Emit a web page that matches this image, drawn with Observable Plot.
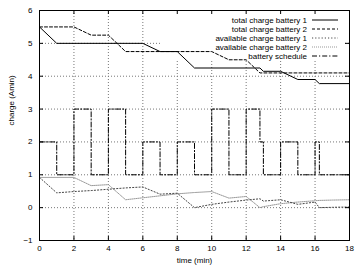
<!DOCTYPE html>
<html><head><meta charset="utf-8">
<script src="https://cdn.jsdelivr.net/npm/d3@7"></script>
<script src="https://cdn.jsdelivr.net/npm/@observablehq/plot@0.6"></script>
<style>
body{margin:0;background:#fff}
svg{font-family:"Liberation Sans",Arial,Helvetica,sans-serif}
</style>
</head><body><div id="chart"></div>
<script>
// ---- data ----
const xTicks = [0,2,4,6,8,10,12,14,16,18];
const yTicks = [-1,0,1,2,3,4,5,6];

const totalB1Time = [0,1,6,7,8,9,12.8,13,14,15,16,16.25,18];
const totalB1     = [5.5,5,5,4.75,4.75,4.25,4.25,4.15,4.15,3.9,3.9,3.775,3.775];

const totalB2Time = [0,2,3,4,5,10,11,12,12.8,18];
const totalB2     = [5.5,5.5,5.25,5.25,4.75,4.75,4.5,4.5,4.1,4.1];

const availTime = [0,1,2,3,4,5,6,7,8,9,10,11,12,12.8,13,14,15,16,16.25,17,18];
const availB1   = [0.92,0.45,0.49,0.52,0.56,0.6,0.63,0.41,0.44,0.0,0.1,0.17,0.23,0.27,0.2,0.24,0.1,0.17,0.0,0.01,0.02];
const availB2   = [0.92,0.92,0.92,0.67,0.7,0.24,0.3,0.36,0.42,0.46,0.49,0.29,0.34,0.0,0.03,0.12,0.17,0.21,0.22,0.23,0.24];

const schedTime = [0,1,2,3,4,5,6,7,8,9,10,11,12,12.8,13,14,15,16,16.25,18];
const sched     = [2,1,3,1,3,1,2,1,2,1,3,1,3,2,1,2,1,2,1,1];

const seriesNames = ["total charge battery 1","total charge battery 2","available charge battery 1","available charge battery 2","battery schedule"];
const xLabel = "time (min)";
const yLabel = "charge (Amin)";

// ---- styles ----
const styles = [
  {stroke:"#000", dash:null},
  {stroke:"#000", dash:"3,2"},
  {stroke:"#444", dash:"1.2,2"},
  {stroke:"#999", dash:"1,1"},
  {stroke:"#000", dash:"5,2,1.2,2"}
];

const rows = (t, v) => t.map((x, i) => ({t: x, v: v[i]}));

function legendBg(index, scales, values, dim) {
  const right = dim.width - dim.marginRight;
  const g = d3.create("svg:g");
  g.append("rect").attr("x", right - 189).attr("y", dim.marginTop + 3)
    .attr("width", 183).attr("height", 48).attr("fill", "white");
  return g.node();
}
function legendFg(index, scales, values, dim) {
  const right = dim.width - dim.marginRight;
  const g = d3.create("svg:g").attr("font-size", 8);
  seriesNames.forEach((name, i) => {
    const y = dim.marginTop + 10 + i * 9;
    g.append("text").attr("x", right - 42).attr("y", y).attr("dy", "0.32em")
      .attr("text-anchor", "end").attr("fill", "black").text(name);
    g.append("line").attr("x1", right - 37).attr("x2", right - 11)
      .attr("y1", y).attr("y2", y).attr("stroke", styles[i].stroke)
      .attr("stroke-dasharray", styles[i].dash);
  });
  return g.node();
}

const frameW = 356 - 39 - 7, frameH = 268 - 10 - 28;

const plot = Plot.plot({
  width: 356, height: 268,
  marginLeft: 39, marginRight: 7, marginTop: 10, marginBottom: 28,
  style: {fontFamily: '"Liberation Sans",Arial,sans-serif', fontSize: "8px", background: "white", color: "black"},
  x: {domain: [0, 18]},
  y: {domain: [-1, 6]},
  marks: [
    Plot.gridX(xTicks, {stroke: "#777", strokeOpacity: 1, strokeDasharray: "1,2"}),
    Plot.gridY(yTicks, {stroke: "#777", strokeOpacity: 1, strokeDasharray: "1,2"}),
    legendBg,
    Plot.line(rows(availTime, availB2), {x: "t", y: "v", stroke: styles[3].stroke, strokeDasharray: styles[3].dash, strokeWidth: 1}),
    Plot.line(rows(availTime, availB1), {x: "t", y: "v", stroke: styles[2].stroke, strokeDasharray: styles[2].dash, strokeWidth: 1}),
    Plot.line(rows(schedTime, sched), {x: "t", y: "v", curve: "step-after", stroke: styles[4].stroke, strokeDasharray: styles[4].dash, strokeWidth: 1}),
    Plot.line(rows(totalB2Time, totalB2), {x: "t", y: "v", stroke: styles[1].stroke, strokeDasharray: styles[1].dash, strokeWidth: 1}),
    Plot.line(rows(totalB1Time, totalB1), {x: "t", y: "v", stroke: styles[0].stroke, strokeWidth: 1}),
    // inward ticks (bottom/top/left/right)
    Plot.ruleX(xTicks, {x: d => d, insetTop: frameH - 4, stroke: "black"}),
    Plot.ruleX(xTicks, {x: d => d, insetBottom: frameH - 4, stroke: "black"}),
    Plot.ruleY(yTicks, {y: d => d, insetRight: frameW - 4, stroke: "black"}),
    Plot.ruleY(yTicks, {y: d => d, insetLeft: frameW - 4, stroke: "black"}),
    Plot.frame({stroke: "black", strokeWidth: 1}),
    Plot.axisX(xTicks, {tickSize: 0, tickPadding: 5, label: null}),
    Plot.axisY(yTicks, {tickSize: 0, tickPadding: 7, label: null}),
    Plot.text([xLabel], {frameAnchor: "bottom", dy: 20, lineAnchor: "middle", fontSize: 8}),
    Plot.text([yLabel], {frameAnchor: "left", dx: -28, rotate: -90, lineAnchor: "middle", fontSize: 8}),
    legendFg
  ]
});
document.getElementById("chart").appendChild(plot);
</script>
</body></html>
